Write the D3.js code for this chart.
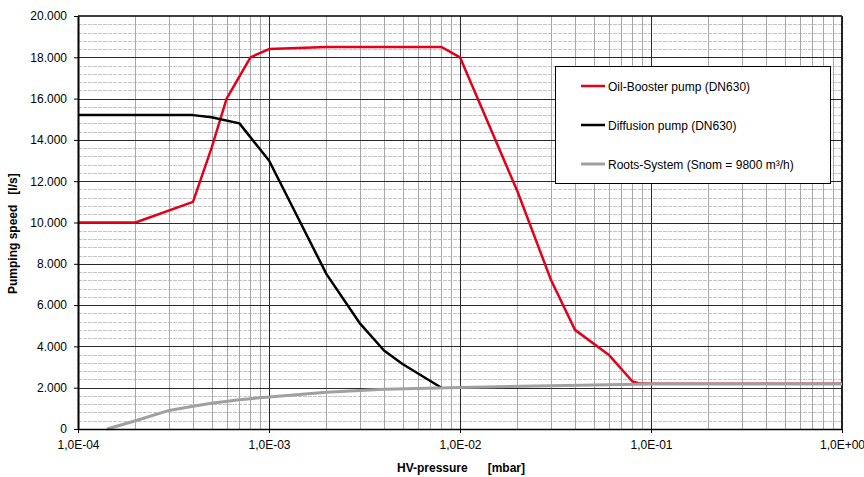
<!DOCTYPE html>
<html>
<head>
<meta charset="utf-8">
<script src="https://cdn.jsdelivr.net/npm/d3@7"></script>
<style>
  html, body { margin: 0; padding: 0; background: #fff; }
  svg { display: block; font-family: "Liberation Sans", Arial, sans-serif; }
</style>
</head>
<body>
<svg id="chart" width="864" height="477"></svg>
<script>
// ---- data ----
const boosterP = [1e-4, 2e-4, 4e-4, 5e-4, 6e-4, 8e-4, 1e-3, 2e-3, 8e-3, 1e-2, 2e-2, 3e-2, 4e-2, 6e-2, 8e-2, 8.6e-2, 1e-1, 1];
const boosterS = [10000, 10000, 11000, 13600, 16000, 18000, 18400, 18500, 18500, 18000, 11500, 7200, 4800, 3600, 2300, 2220, 2190, 2190];

const diffP = [1e-4, 4e-4, 5e-4, 7e-4, 1e-3, 2e-3, 3e-3, 4e-3, 5e-3, 6e-3, 8e-3];
const diffS = [15200, 15200, 15100, 14800, 13000, 7500, 5100, 3800, 3150, 2700, 2000];

const rootsP = [1.42e-4, 2e-4, 3e-4, 4e-4, 5e-4, 7e-4, 1e-3, 2e-3, 4e-3, 1e-2, 3e-2, 1e-1, 1];
const rootsS = [0, 400, 900, 1100, 1250, 1420, 1550, 1780, 1920, 2010, 2100, 2180, 2180];

const seriesNames = ["Oil-Booster pump (DN630)", "Diffusion pump (DN630)", "Roots-System (Snom = 9800 m³/h)"];
const seriesColors = ["#e2001a", "#000000", "#a0a0a0"];

const xTickValues = [1e-4, 1e-3, 1e-2, 1e-1, 1];
const xTickLabels = ["1,0E-04", "1,0E-03", "1,0E-02", "1,0E-01", "1,0E+00"];
const yTickValues = [0, 2000, 4000, 6000, 8000, 10000, 12000, 14000, 16000, 18000, 20000];

const xTitle = "HV-pressure      [mbar]";
const yTitle = "Pumping speed   [l/s]";

// ---- layout ----
const svg = d3.select("#chart");
const L = 78, R = 842, T = 16, B = 429;

const x = d3.scaleLog().domain([1e-4, 1]).range([L, R]);
const y = d3.scaleLinear().domain([0, 20000]).range([B, T]);

const locale = d3.formatLocale({decimal: ",", thousands: ".", grouping: [3], currency: ["", ""]});
const yFmt = locale.format(",");

// ---- gridlines ----
const grid = svg.append("g");
const minorY = d3.range(0, 20001, 400).filter(v => v % 2000 !== 0);
grid.selectAll("line.hmin").data(minorY).enter().append("line")
  .attr("x1", L).attr("x2", R)
  .attr("y1", d => Math.round(y(d)) + 0.5).attr("y2", d => Math.round(y(d)) + 0.5)
  .attr("stroke", "#c4c4c4").attr("stroke-width", 1).attr("stroke-dasharray", "4,1");
const minorX = [];
[1e-4, 1e-3, 1e-2, 1e-1].forEach(dec => { for (let k = 2; k <= 9; k++) minorX.push(dec * k); });
grid.selectAll("line.vmin").data(minorX).enter().append("line")
  .attr("x1", d => Math.round(x(d)) + 0.5).attr("x2", d => Math.round(x(d)) + 0.5)
  .attr("y1", T).attr("y2", B)
  .attr("stroke", "#a8a8a8").attr("stroke-width", 1);
grid.selectAll("line.hmaj").data(yTickValues.slice(1, -1)).enter().append("line")
  .attr("x1", L).attr("x2", R)
  .attr("y1", d => Math.round(y(d)) + 0.5).attr("y2", d => Math.round(y(d)) + 0.5)
  .attr("stroke", "#2a2a2a").attr("stroke-width", 1);
grid.selectAll("line.vmaj").data(xTickValues.slice(1, -1)).enter().append("line")
  .attr("x1", d => Math.round(x(d)) + 0.5).attr("x2", d => Math.round(x(d)) + 0.5)
  .attr("y1", T).attr("y2", B)
  .attr("stroke", "#2a2a2a").attr("stroke-width", 1);

svg.append("line").attr("x1", L).attr("x2", R).attr("y1", T).attr("y2", T)
  .attr("stroke", "#000").attr("stroke-width", 1.5);
svg.append("line").attr("x1", R).attr("x2", R).attr("y1", T).attr("y2", B)
  .attr("stroke", "#222").attr("stroke-width", 2);

// ---- lines ----
const line = d3.line().x(d => x(d[0])).y(d => y(d[1]));
const series = [
  {p: boosterP, s: boosterS, c: seriesColors[0], w: 2.5},
  {p: diffP, s: diffS, c: seriesColors[1], w: 2.5},
  {p: rootsP, s: rootsS, c: seriesColors[2], w: 3}
];
series.forEach(sr => {
  svg.append("path")
    .datum(sr.p.map((v, i) => [v, sr.s[i]]))
    .attr("d", line)
    .attr("fill", "none")
    .attr("stroke", sr.c)
    .attr("stroke-width", sr.w)
    .attr("stroke-linejoin", "round");
});

// ---- axes ----
const yAxis = d3.axisLeft(y).tickValues(yTickValues).tickFormat(d => d === 0 ? "0" : yFmt(d))
  .tickSize(4).tickPadding(7).tickSizeOuter(0);
const gy = svg.append("g").attr("transform", `translate(${L},0)`).call(yAxis);
gy.select(".domain").attr("stroke", "#000").attr("stroke-width", 2);
gy.selectAll(".tick line").attr("stroke", "#000");
gy.selectAll("text").attr("font-size", 12).attr("fill", "#000")
  .attr("font-family", "Liberation Sans, Arial, sans-serif");

const xAxis = d3.axisBottom(x).tickValues(xTickValues).tickFormat((d, i) => xTickLabels[i])
  .tickSize(4).tickPadding(7).tickSizeOuter(0);
const gx = svg.append("g").attr("transform", `translate(0,${B})`).call(xAxis);
gx.select(".domain").attr("stroke", "#000").attr("stroke-width", 1.5);
gx.selectAll(".tick line").attr("stroke", "#000");
gx.selectAll("text").attr("font-size", 12).attr("fill", "#000")
  .attr("font-family", "Liberation Sans, Arial, sans-serif");

// ---- titles ----
svg.append("text")
  .attr("x", 397).attr("y", 472)
  .attr("font-size", 12).attr("font-weight", "bold")
  .style("white-space", "pre")
  .text(xTitle);
svg.append("text")
  .attr("transform", "translate(17,294) rotate(-90)")
  .attr("font-size", 12).attr("font-weight", "bold")
  .style("white-space", "pre")
  .text(yTitle);

// ---- legend ----
const lg = svg.append("g");
lg.append("rect").attr("x", 555.5).attr("y", 66.5).attr("width", 275).attr("height", 117)
  .attr("fill", "#fff").attr("stroke", "#000").attr("stroke-width", 1);
const legY = [86, 125, 164];
seriesNames.forEach((n, i) => {
  lg.append("line").attr("x1", 581).attr("x2", 605).attr("y1", legY[i]).attr("y2", legY[i])
    .attr("stroke", seriesColors[i]).attr("stroke-width", i === 2 ? 3 : 2.5);
  lg.append("text").attr("x", 608).attr("y", legY[i] + 4.5)
    .attr("font-size", 12).attr("fill", "#000").text(n);
});
</script>
</body>
</html>
